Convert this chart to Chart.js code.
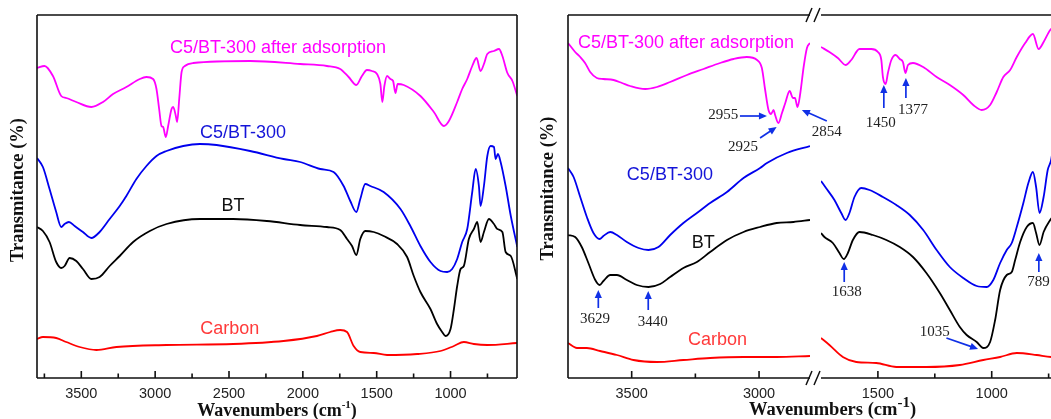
<!DOCTYPE html>
<html>
<head>
<meta charset="utf-8">
<script src="https://cdn.jsdelivr.net/npm/chart.js"></script>
<style>
  html, body { margin: 0; padding: 0; background: #fff; overflow: hidden; width: 1051px; height: 419px; }
  .box { position: absolute; top: 0; height: 419px; }
  #leftBox { left: 0; width: 530px; }
  #rightABox { left: 538px; width: 402px; }
  #rightBBox { left: 810px; width: 260px; }
</style>
</head>
<body>
<div class="box" id="leftBox"><canvas id="leftChart"></canvas></div>
<div class="box" id="rightABox"><canvas id="rightAChart"></canvas></div>
<div class="box" id="rightBBox"><canvas id="rightBChart"></canvas></div>
<script>
// ---------- left panel: full range spectra (wavenumber, transmittance a.u.) ----------
const leftAdsWn = [3800,3749,3692,3636,3602,3534,3432,3353,3285,3195,3104,3059,3014,2991,2973,2957,2946,2928,2912,2889,2878,2860,2851,2837,2821,2799,2742,2357,2018,1837,1747,1690,1638,1600,1566,1532,1498,1475,1462,1448,1430,1407,1389,1373,1358,1317,1204,1113,1045,1011,955,921,887,853,824,797,774,751,706,672,649,615,581,548];
const leftAdsT = [310,312,302,282,280,276,271,276,284,291,299,301,299,289,269,252,251,241,252,269,271,262,256,279,306,312,315,317,314,312,309,301,293,302,308,307,304,294,276,292,302,299,297,285,294,293,282,266,252,257,276,289,299,312,320,307,314,324,327,329,322,305,297,282];

const leftC5Wn = [3800,3760,3715,3670,3636,3613,3584,3545,3489,3432,3376,3308,3240,3195,3127,3059,2991,2923,2810,2697,2584,2357,2131,2018,1882,1792,1724,1679,1638,1611,1577,1543,1453,1339,1272,1204,1136,1068,1023,989,955,921,887,853,830,808,797,774,751,729,706,695,679,661,627,592,548];
const leftC5T = [220,211,189,166,151,154,156,152,146,140,146,159,172,182,199,212,222,227,232,234,233,227,219,216,209,206,192,177,166,179,194,192,186,169,152,132,116,107,106,109,119,136,149,186,209,192,172,192,222,232,231,219,224,216,192,162,131];

const leftBTWn = [3800,3760,3715,3670,3636,3613,3579,3534,3489,3432,3376,3308,3240,3149,3036,2923,2697,2471,2244,2018,1837,1747,1701,1667,1638,1611,1577,1520,1453,1362,1294,1249,1204,1136,1091,1057,1034,1000,977,955,932,910,876,842,819,797,774,740,706,683,649,627,592,548];
const leftBTT = [151,147,136,116,110,112,120,117,109,99,101,112,122,136,147,154,159,159,157,153,151,148,139,132,123,139,147,146,142,134,121,102,86,69,54,46,42,49,69,92,109,112,139,149,156,136,146,159,154,149,146,126,122,99];

const leftCarbonWn = [3800,3760,3670,3602,3511,3398,3262,2923,2471,2131,1905,1815,1747,1701,1656,1611,1520,1430,1226,1068,977,910,842,751,548];
const leftCarbonT = [39,41,40,36,31,28,31,33,34,37,42,46,48,46,32,26,25,23,24,27,32,36,34,33,35];

// ---------- right panel, segment A (3750 - 2800) ----------
const rAdsWnA = [3750,3722,3702,3683,3663,3637,3611,3571,3538,3506,3447,3401,3349,3283,3218,3153,3100,3048,3008,2989,2976,2963,2953,2943,2937,2924,2910,2897,2880,2867,2859,2849,2838,2825,2812,2800];
const rAdsTA = [335,326,321,315,306,300,299,298,295,292,289,291,296,303,309,315,319,321,318,310,288,268,264,268,263,255,265,275,287,280,280,271,285,311,330,335];
const rC5WnA = [3750,3728,3702,3676,3650,3626,3611,3584,3558,3519,3473,3434,3395,3349,3297,3244,3192,3126,3061,2996,2969,2891,2800];
const rC5TA = [210,201,181,161,145,139,142,146,143,136,130,128,131,143,155,165,175,186,200,210,215,225,232];
const rBTWnA = [3750,3722,3696,3670,3643,3626,3611,3584,3558,3519,3480,3434,3388,3349,3297,3244,3192,3126,3061,2996,2931,2865,2800];
const rBTTA = [143,141,131,115,98,93,97,103,103,98,93,91,94,101,110,116,126,138,146,151,155,156,158];
const rCarbonWnA = [3750,3715,3676,3624,3558,3493,3401,3297,3192,3061,2931,2800];
const rCarbonTA = [35,30,30,27,23,18,16,18,20,21,21,22];

// ---------- right panel, segment B (1750 - 700) ----------
const rAdsWnB = [1750,1713,1676,1642,1617,1581,1529,1500,1485,1478,1466,1456,1441,1422,1404,1390,1379,1368,1346,1301,1242,1184,1125,1081,1044,1007,978,949,919,890,853,819,794,772,743,720];
const rAdsTB = [331,326,320,313,318,329,329,326,318,301,294,305,318,323,319,316,305,313,315,311,301,293,283,273,268,273,286,301,308,321,335,344,329,336,348,352];
const rC5WnB = [1750,1728,1691,1661,1642,1625,1603,1573,1537,1478,1419,1360,1301,1242,1184,1125,1066,1022,993,963,934,912,890,861,839,819,805,790,772,754,739,725];
const rC5TB = [197,190,178,165,158,165,181,190,188,181,173,163,148,128,111,100,92,91,98,115,128,135,151,175,195,206,191,165,181,208,218,240];
const rBTWnB = [1750,1735,1698,1669,1650,1632,1610,1581,1522,1463,1404,1346,1287,1228,1184,1140,1110,1066,1037,1007,985,963,934,912,897,875,846,819,805,790,772,743,720];
const rBTTB = [145,141,135,125,119,125,138,146,143,138,131,121,105,85,68,51,43,36,30,36,58,88,103,106,118,136,151,155,145,133,146,158,165];
const rCarbonWnB = [1750,1713,1654,1595,1507,1419,1287,1140,1037,963,890,802,739,720];
const rCarbonTB = [40,33,21,16,15,11,11,13,18,21,25,23,21,21];

// tick values
const leftMajorTicks = [3500, 3000, 2500, 2000, 1500, 1000];
const leftMinorTicks = [3750, 3250, 2750, 2250, 1750, 1250, 750];
const rightAMajorTicks = [3500, 3000];
const rightAMinorTicks = [3250];
const rightBMajorTicks = [1500, 1000];
const rightBMinorTicks = [1250, 750];

// series names and peak labels
const seriesNames = ['C5/BT-300 after adsorption', 'C5/BT-300', 'BT', 'Carbon'];
const peakLabelsA = ['2955', '2925', '2854', '3629', '3440'];
const peakLabelsB = ['1450', '1377', '1638', '1035', '789'];

const COLORS = ['#ff00ff', '#0000ee', '#000000', '#ff0000'];
const LABEL_COLORS = ['#ff00ff', '#1414d8', '#111111', '#ff3a3a'];
const ARROW = '#1030e6';
const SANS = '"Liberation Sans", Arial, sans-serif';
const SERIF = '"Liberation Serif", "Times New Roman", serif';

function pts(wn, t) {
    return wn.map((w, i) => ({ x: w, y: t[i] }));
}

function drawArrow(ctx, x1, y1, x2, y2) {
    const ang = Math.atan2(y2 - y1, x2 - x1);
    const hl = 8, hw = 3.6;
    ctx.strokeStyle = ARROW;
    ctx.fillStyle = ARROW;
    ctx.lineWidth = 1.7;
    ctx.beginPath();
    ctx.moveTo(x1, y1);
    ctx.lineTo(x2 - Math.cos(ang) * hl * 0.8, y2 - Math.sin(ang) * hl * 0.8);
    ctx.stroke();
    ctx.beginPath();
    ctx.moveTo(x2, y2);
    ctx.lineTo(x2 - Math.cos(ang) * hl - Math.sin(ang) * hw, y2 - Math.sin(ang) * hl + Math.cos(ang) * hw);
    ctx.lineTo(x2 - Math.cos(ang) * hl + Math.sin(ang) * hw, y2 - Math.sin(ang) * hl - Math.cos(ang) * hw);
    ctx.closePath();
    ctx.fill();
}

function drawXTitle(ctx, cx, baseY, size, supSize, supRise) {
    const main = 'Wavenumbers (cm', sup = '-1', close = ')';
    const f1 = 'bold ' + size + 'px ' + SERIF;
    const f2 = 'bold ' + supSize + 'px ' + SERIF;
    ctx.font = f1;
    const w1 = ctx.measureText(main).width, w3 = ctx.measureText(close).width;
    ctx.font = f2;
    const w2 = ctx.measureText(sup).width;
    let x = cx - (w1 + w2 + w3) / 2;
    ctx.fillStyle = '#111';
    ctx.textAlign = 'left';
    ctx.textBaseline = 'alphabetic';
    ctx.font = f1; ctx.fillText(main, x, baseY); x += w1;
    ctx.font = f2; ctx.fillText(sup, x, baseY - supRise); x += w2;
    ctx.font = f1; ctx.fillText(close, x, baseY);
}

// draws frame, inward ticks, labels, titles and arrows for one panel
function decor(cfg) {
    return {
        id: 'decor',
        afterDraw(chart) {
            const ctx = chart.ctx;
            const a = chart.chartArea;
            const xs = chart.scales.x, ys = chart.scales.y;
            ctx.save();
            ctx.strokeStyle = '#111';
            ctx.lineWidth = 1.6;
            ctx.beginPath();
            ctx.moveTo(a.left, a.top); ctx.lineTo(a.right, a.top);
            ctx.moveTo(a.left, a.bottom); ctx.lineTo(a.right, a.bottom);
            if (cfg.leftEdge) { ctx.moveTo(a.left, a.top); ctx.lineTo(a.left, a.bottom); }
            if (cfg.rightEdge) { ctx.moveTo(a.right, a.top); ctx.lineTo(a.right, a.bottom); }
            cfg.major.forEach(v => { const p = xs.getPixelForValue(v); ctx.moveTo(p, a.bottom); ctx.lineTo(p, a.bottom - 7); });
            cfg.minor.forEach(v => { const p = xs.getPixelForValue(v); ctx.moveTo(p, a.bottom); ctx.lineTo(p, a.bottom - 4.5); });
            ctx.stroke();

            // axis break marks
            if (cfg.breakMarks) {
                ctx.lineWidth = 1.5;
                ctx.beginPath();
                [a.top, a.bottom].forEach(y => {
                    ctx.moveTo(a.right - 4, y + 7); ctx.lineTo(a.right + 2, y - 7);
                    ctx.moveTo(a.right + 4, y + 7); ctx.lineTo(a.right + 10, y - 7);
                });
                ctx.stroke();
            }

            // series names
            ctx.textAlign = 'center';
            ctx.textBaseline = 'middle';
            ctx.font = '18px ' + SANS;
            (cfg.names || []).forEach((n, i) => {
                ctx.fillStyle = LABEL_COLORS[i];
                ctx.fillText(seriesNames[i], xs.getPixelForValue(n[0]), ys.getPixelForValue(n[1]));
            });

            // peak annotations
            (cfg.peaks || []).forEach((p, i) => {
                ctx.font = '15px ' + SERIF;
                ctx.fillStyle = '#222';
                ctx.textAlign = 'center';
                ctx.textBaseline = 'middle';
                ctx.fillText(cfg.peakText[i], xs.getPixelForValue(p.t[0]), ys.getPixelForValue(p.t[1]));
                drawArrow(ctx, xs.getPixelForValue(p.from[0]), ys.getPixelForValue(p.from[1]),
                    xs.getPixelForValue(p.to[0]), ys.getPixelForValue(p.to[1]));
            });

            // axis titles
            if (cfg.yTitleX !== undefined) {
                ctx.save();
                ctx.translate(cfg.yTitleX, cfg.yTitleY);
                ctx.rotate(-Math.PI / 2);
                ctx.font = 'bold 18.5px ' + SERIF;
                ctx.fillStyle = '#111';
                ctx.textAlign = 'center';
                ctx.textBaseline = 'middle';
                ctx.fillText('Transmitance (%)', 0, 0);
                ctx.restore();
            }
            if (cfg.xTitle) {
                const t = cfg.xTitle;
                drawXTitle(ctx, t.cx, t.base, t.size, t.supSize, t.rise);
            }
            ctx.restore();
        }
    };
}

function makeChart(id, cfg) {
    const datasets = cfg.series.map((s, i) => ({
        data: pts(s[0], s[1]),
        borderColor: COLORS[i],
        borderWidth: 1.8,
        pointRadius: 0,
        cubicInterpolationMode: 'monotone',
        fill: false
    }));
    return new Chart(document.getElementById(id), {
        type: 'line',
        data: { datasets: datasets },
        options: {
            responsive: true,
            maintainAspectRatio: false,
            animation: false,
            events: [],
            layout: { padding: { top: 15, left: cfg.padLeft, right: cfg.padRight, bottom: 0 } },
            plugins: { legend: { display: false }, tooltip: { enabled: false } },
            scales: {
                x: {
                    type: 'linear',
                    reverse: true,
                    min: cfg.xMin,
                    max: cfg.xMax,
                    afterBuildTicks: s => { s.ticks = cfg.major.map(v => ({ value: v })); },
                    afterFit: s => { s.height = 41; },
                    grid: { display: false, drawTicks: false },
                    border: { display: false },
                    ticks: {
                        padding: 7.6,
                        color: '#222',
                        autoSkip: false,
                        maxRotation: 0,
                        font: { family: SANS, size: 14.5 },
                        callback: v => String(v)
                    }
                },
                y: { display: false, min: 0, max: 363 }
            }
        },
        plugins: [decor(cfg)]
    });
}

// left panel
makeChart('leftChart', {
    series: [[leftAdsWn, leftAdsT], [leftC5Wn, leftC5T], [leftBTWn, leftBTT], [leftCarbonWn, leftCarbonT]],
    xMin: 550, xMax: 3800, padLeft: 37, padRight: 13,
    major: leftMajorTicks, minor: leftMinorTicks,
    leftEdge: true, rightEdge: true,
    names: [[2168, 330], [2405, 245], [2473, 172], [2495, 49]],
    yTitleX: 18.5, yTitleY: 190,
    xTitle: { cx: 277, base: 416, size: 18, supSize: 11, rise: 8 }
});

// right panel, high wavenumber segment
makeChart('rightAChart', {
    series: [[rAdsWnA, rAdsTA], [rC5WnA, rC5TA], [rBTWnA, rBTTA], [rCarbonWnA, rCarbonTA]],
    xMin: 2800, xMax: 3750, padLeft: 30, padRight: 130,
    major: rightAMajorTicks, minor: rightAMinorTicks,
    leftEdge: true, rightEdge: false, breakMarks: true,
    names: [[3287, 335], [3350, 203], [3219, 135], [3163, 38]],
    peakText: peakLabelsA,
    peaks: [
        { t: [3141, 263], from: [3075, 262], to: [2969, 262] },
        { t: [3063, 231], from: [2996, 240], to: [2931, 251] },
        { t: [2734, 246], from: [2734, 257], to: [2832, 268] },
        { t: [3644, 59], from: [3631, 70], to: [3631, 88] },
        { t: [3417, 56], from: [3435, 68], to: [3435, 87] }
    ],
    yTitleX: 10.5, yTitleY: 188.5,
    xTitle: { cx: 294.5, base: 415, size: 18.5, supSize: 15, rise: 8 }
});

// right panel, fingerprint segment
makeChart('rightBChart', {
    series: [[rAdsWnB, rAdsTB], [rC5WnB, rC5TB], [rBTWnB, rBTTB], [rCarbonWnB, rCarbonTB]],
    xMin: 700, xMax: 1750, padLeft: 11, padRight: 10,
    major: rightBMajorTicks, minor: rightBMinorTicks,
    leftEdge: false, rightEdge: true,
    peakText: peakLabelsB,
    peaks: [
        { t: [1487, 255], from: [1474, 270], to: [1474, 293] },
        { t: [1346, 268], from: [1377, 280], to: [1377, 300] },
        { t: [1637, 86], from: [1648, 96], to: [1648, 116] },
        { t: [1250, 46], from: [1199, 40], to: [1060, 29] },
        { t: [794, 96], from: [793, 106], to: [793, 125] }
    ]
});
</script>
</body>
</html>
